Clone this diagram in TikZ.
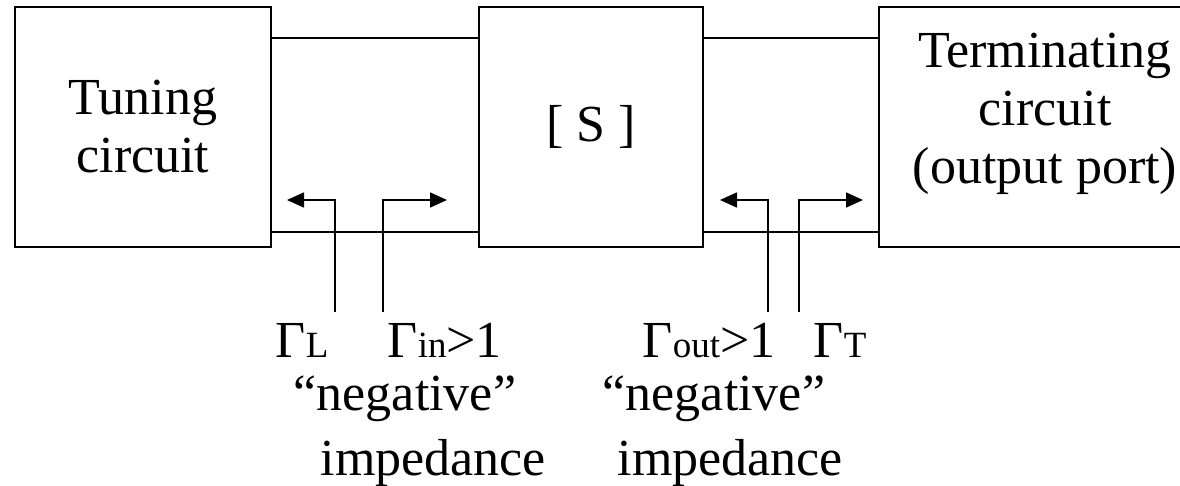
\documentclass[tikz,border=0pt]{standalone}
\usepackage{fontspec}
\setmainfont{Liberation Serif}
\usetikzlibrary{arrows.meta}
\newcommand{\gsub}[1]{{\fontsize{37}{40}\selectfont #1}}
\begin{document}
\begin{tikzpicture}[x=1pt, y=-1pt, line width=1.6pt,
    box/.style={draw, align=center, minimum height=240pt, inner sep=0pt, font=\fontsize{52}{58}\selectfont},
    port/.style={-{Triangle[length=17pt,width=15pt]}},
    lbl/.style={anchor=base west, inner sep=0pt, font=\fontsize{52}{58}\selectfont}]
    \useasboundingbox (0,0) rectangle (1180,486);
    \node[box, minimum width=256pt] (tune) at (143,127) {Tuning\\circuit};
    \node[box, minimum width=224pt] (smat) at (591,127) {[ S ]};
    \node[box, minimum width=332pt, text depth=37pt] (term) at (1045,127) {Terminating\\circuit\\(output port)};
    \foreach \a/\b in {tune/smat, smat/term}{
        \draw ([yshift=-32pt]\a.north east)--([yshift=-32pt]\b.north west);
        \draw ([yshift=16pt]\a.south east)--([yshift=16pt]\b.south west);
    }
    \foreach \x/\t/\n in {335/287/gl, 383/447/gin, 768/720/gout, 799/863/gt}{
        \coordinate (\n-foot) at (\x,312);
        \coordinate (\n-tip) at (\t,200);
        \draw[port] (\n-foot) |- (\n-tip);
    }
    \node[lbl] (gl) at (275,357) {Γ\gsub{L}};
    \node[lbl] (gin) at (387,357) {Γ\gsub{in}>1};
    \node[lbl] (gout) at (642,357) {Γ\gsub{out}>1};
    \node[lbl] (gt) at (813,357) {Γ\gsub{T}};
    \node[lbl] (neg1) at (293,410) {“negative”};
    \node[lbl] (imp1) at (320,475) {impedance};
    \node[lbl] (neg2) at (602,410) {“negative”};
    \node[lbl] (imp2) at (617,475) {impedance};
\end{tikzpicture}
\end{document}
